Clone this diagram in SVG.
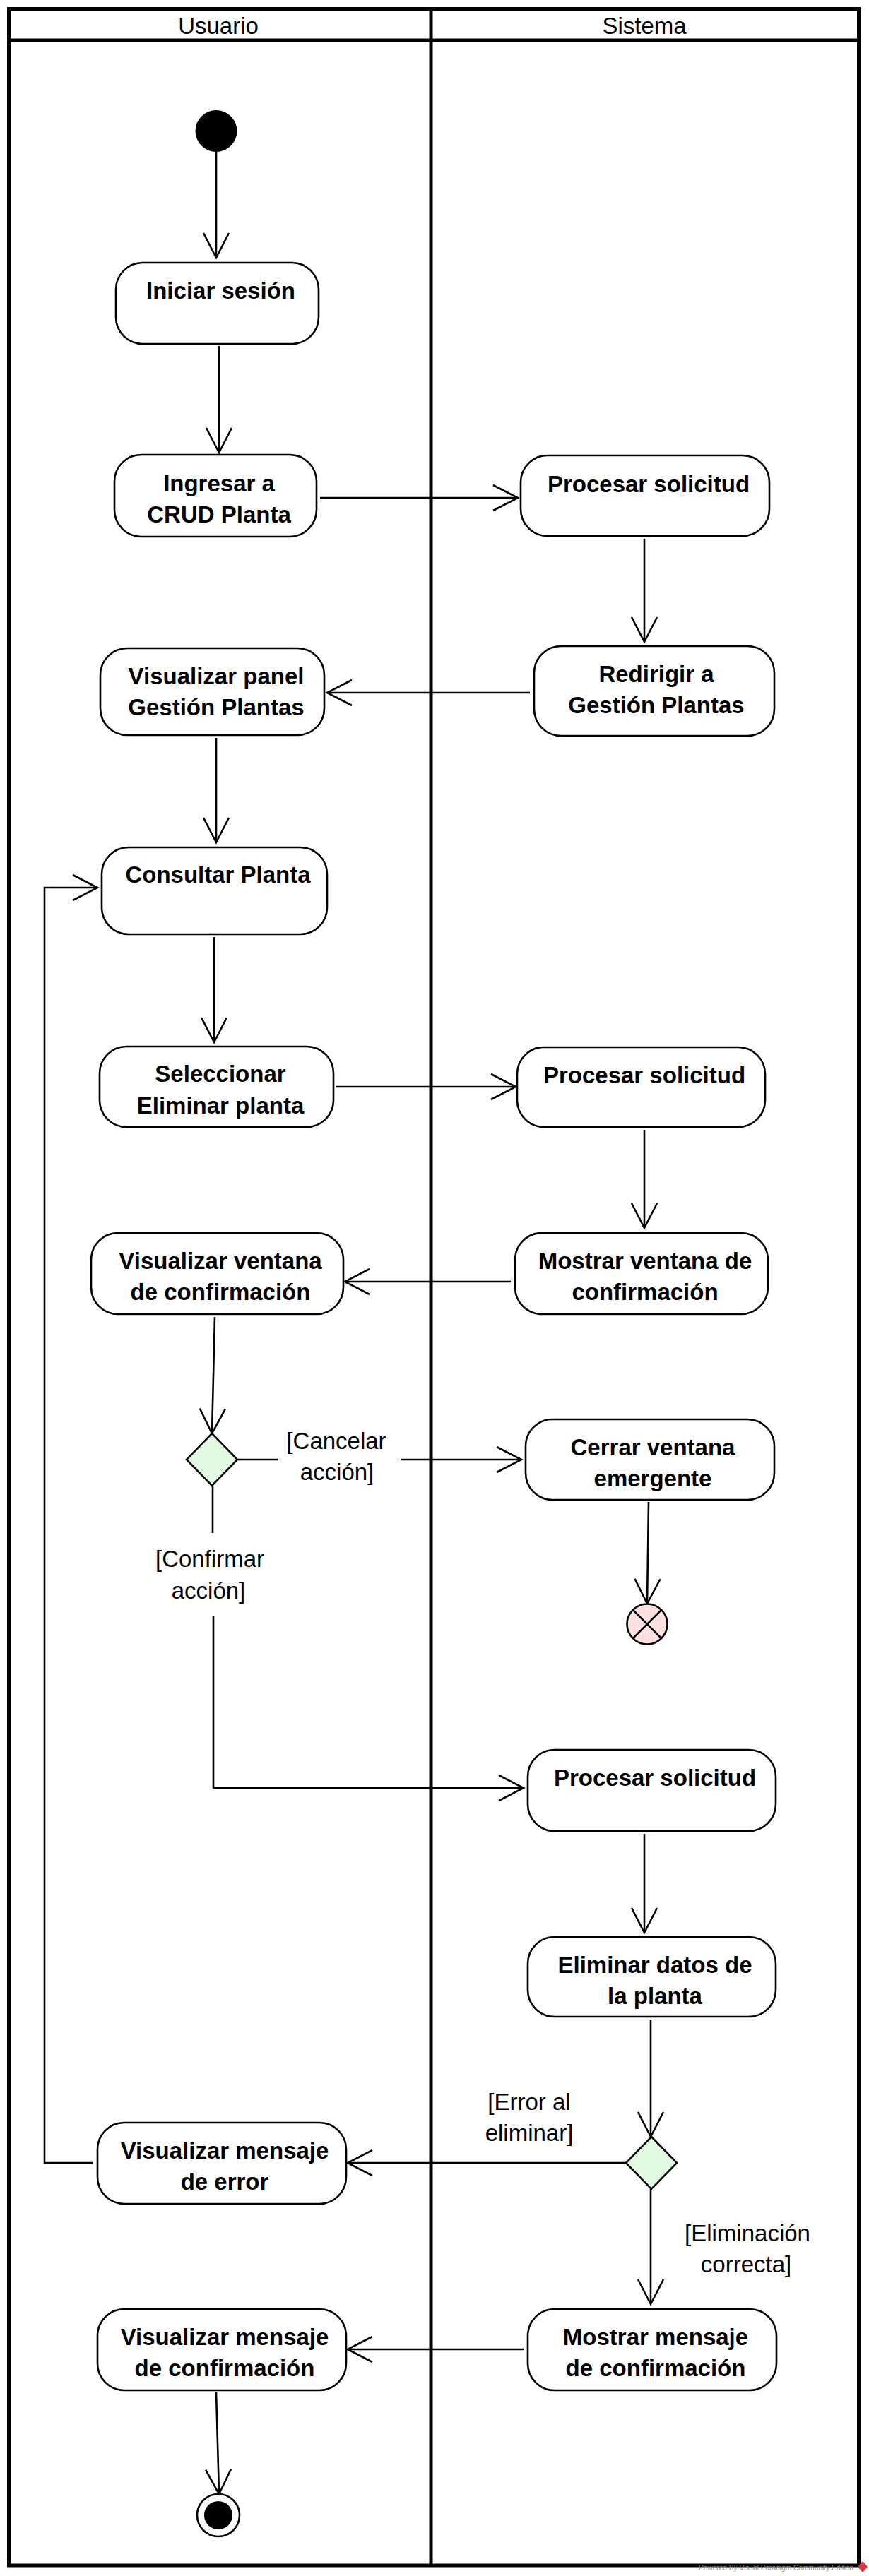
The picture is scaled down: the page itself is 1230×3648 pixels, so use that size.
<svg xmlns="http://www.w3.org/2000/svg" width="1230" height="3648" viewBox="0 0 1230 3648">
<style>
.frame{fill:none;stroke:#000;stroke-width:5}
.act{fill:#fff;stroke:#000;stroke-width:2.6}
.t{font-family:"Liberation Sans",Arial,sans-serif;font-size:33px;font-weight:bold;fill:#000;text-anchor:middle}
.lbl{font-family:"Liberation Sans",Arial,sans-serif;font-size:33px;fill:#000;text-anchor:middle}
.c{fill:none;stroke:#000;stroke-width:2.6}
.ca{fill:none;stroke:#000;stroke-width:2.6;marker-end:url(#open)}
.dec{fill:#e1fae1;stroke:#000;stroke-width:2.6}
</style>
<defs>
<marker id="open" viewBox="0 0 40 40" markerWidth="40" markerHeight="40" refX="37" refY="20" orient="auto" markerUnits="userSpaceOnUse">
<path d="M2,2 L37,20 L2,38" fill="none" stroke="#000" stroke-width="2.6"/>
</marker>
</defs>
<rect width="1230" height="3648" fill="#fff"/>
<g id="swimlanes">
<rect class="frame" x="12.5" y="12.5" width="1203" height="3620.5"/>
<line class="frame" x1="12.5" y1="57" x2="1215.5" y2="57"/>
<line class="frame" x1="610" y1="12.5" x2="610" y2="3633"/>
<text class="lbl" x="309" y="48">Usuario</text>
<text class="lbl" x="912" y="48">Sistema</text>
</g>
<g id="connectors">
<path class="ca" d="M306,215 V365"/>
<path class="ca" d="M310,490 V641"/>
<path class="ca" d="M453,705 H733"/>
<path class="ca" d="M912,763 V909"/>
<path class="ca" d="M750,981 H463"/>
<path class="ca" d="M306,1045 V1193"/>
<path class="ca" d="M303,1327 V1476"/>
<path class="ca" d="M475,1539 H730"/>
<path class="ca" d="M912,1600 V1739"/>
<path class="ca" d="M723,1815 H488"/>
<path class="ca" d="M304,1865 L300,2030"/>
<path class="c" d="M336,2067 H393"/>
<path class="ca" d="M567,2067 H738"/>
<path class="ca" d="M918,2127 L916,2271"/>
<path class="c" d="M301,2104 V2171"/>
<path class="ca" d="M302,2289 V2532 H741"/>
<path class="ca" d="M912,2597 V2737"/>
<path class="ca" d="M921,2860 V3026"/>
<path class="ca" d="M886,3063 H492"/>
<path class="ca" d="M132,3063 H63 V1257 H138"/>
<path class="ca" d="M921,3100 V3263"/>
<path class="ca" d="M741,3327 H492"/>
<path class="ca" d="M306,3388 L310,3532"/>
<text class="lbl" x="476" y="2052">[Cancelar</text>
<text class="lbl" x="477" y="2096">acción]</text>
<text class="lbl" x="297" y="2219">[Confirmar</text>
<text class="lbl" x="295" y="2264">acción]</text>
<text class="lbl" x="749" y="2988">[Error al</text>
<text class="lbl" x="749" y="3032">eliminar]</text>
<text class="lbl" x="1058" y="3174">[Eliminación</text>
<text class="lbl" x="1056" y="3218">correcta]</text>
</g>
<g id="start"><circle cx="306" cy="185.5" r="29.5" fill="#000"/></g>
<g id="iniciar-sesion">
<rect class="act" x="164" y="372" width="287" height="115" rx="38"/>
<text class="t" x="312.5" y="423">Iniciar sesión</text>
</g>
<g id="ingresar-crud">
<rect class="act" x="162" y="644" width="286" height="116" rx="38"/>
<text class="t" x="310" y="696">Ingresar a</text>
<text class="t" x="310" y="740">CRUD Planta</text>
</g>
<g id="procesar-1">
<rect class="act" x="737" y="645" width="352" height="114" rx="38"/>
<text class="t" x="918" y="697">Procesar solicitud</text>
</g>
<g id="redirigir">
<rect class="act" x="756" y="915" width="340" height="127" rx="38"/>
<text class="t" x="929" y="966">Redirigir a</text>
<text class="t" x="929" y="1010">Gestión Plantas</text>
</g>
<g id="visualizar-panel">
<rect class="act" x="142" y="918" width="317" height="123" rx="38"/>
<text class="t" x="306" y="969">Visualizar panel</text>
<text class="t" x="306" y="1013">Gestión Plantas</text>
</g>
<g id="consultar-planta">
<rect class="act" x="144" y="1200" width="319" height="123" rx="38"/>
<text class="t" x="308.5" y="1250">Consultar Planta</text>
</g>
<g id="seleccionar-eliminar">
<rect class="act" x="141" y="1482" width="331" height="114" rx="38"/>
<text class="t" x="312" y="1532">Seleccionar</text>
<text class="t" x="312" y="1577">Eliminar planta</text>
</g>
<g id="procesar-2">
<rect class="act" x="732" y="1483" width="351" height="113" rx="38"/>
<text class="t" x="912" y="1534">Procesar solicitud</text>
</g>
<g id="mostrar-ventana">
<rect class="act" x="729" y="1746" width="358" height="115" rx="38"/>
<text class="t" x="913" y="1797">Mostrar ventana de</text>
<text class="t" x="913" y="1841">confirmación</text>
</g>
<g id="visualizar-ventana">
<rect class="act" x="129" y="1746" width="357" height="115" rx="38"/>
<text class="t" x="312" y="1797">Visualizar ventana</text>
<text class="t" x="312" y="1841">de confirmación</text>
</g>
<g id="decision-1"><polygon class="dec" points="300,2030 336,2067 300,2104 264,2067"/></g>
<g id="cerrar-ventana">
<rect class="act" x="744" y="2010" width="352" height="114" rx="38"/>
<text class="t" x="924" y="2061">Cerrar ventana</text>
<text class="t" x="924" y="2105">emergente</text>
</g>
<g id="flow-final">
<circle cx="916" cy="2300" r="28.5" fill="#fbe0e0" stroke="#000" stroke-width="2.6"/>
<path d="M896,2280 L936,2320 M936,2280 L896,2320" stroke="#000" stroke-width="2.6" fill="none"/>
</g>
<g id="procesar-3">
<rect class="act" x="747" y="2478" width="351" height="115" rx="38"/>
<text class="t" x="927" y="2529">Procesar solicitud</text>
</g>
<g id="eliminar-datos">
<rect class="act" x="747" y="2743" width="351" height="113" rx="38"/>
<text class="t" x="927" y="2794">Eliminar datos de</text>
<text class="t" x="927" y="2838">la planta</text>
</g>
<g id="decision-2"><polygon class="dec" points="922,3026 958,3063 922,3100 886,3063"/></g>
<g id="visualizar-error">
<rect class="act" x="138" y="3006" width="352" height="115" rx="38"/>
<text class="t" x="318" y="3057">Visualizar mensaje</text>
<text class="t" x="318" y="3101">de error</text>
</g>
<g id="mostrar-mensaje">
<rect class="act" x="747" y="3270" width="352" height="115" rx="38"/>
<text class="t" x="928" y="3321">Mostrar mensaje</text>
<text class="t" x="928" y="3365">de confirmación</text>
</g>
<g id="visualizar-confirmacion">
<rect class="act" x="138" y="3270" width="352" height="115" rx="38"/>
<text class="t" x="318" y="3321">Visualizar mensaje</text>
<text class="t" x="318" y="3365">de confirmación</text>
</g>
<g id="end">
<circle cx="309" cy="3562" r="30" fill="#fff" stroke="#000" stroke-width="2.6"/>
<circle cx="309" cy="3562" r="20" fill="#000"/>
</g>
<g id="watermark">
<text x="989" y="3640" font-family="Liberation Sans, Arial, sans-serif" font-size="10" fill="#8a8a8a" textLength="219" lengthAdjust="spacingAndGlyphs">Powered By Visual Paradigm Community Edition</text>
<polygon points="1221,3627 1228,3635 1221,3643 1214,3635" fill="#d9363e"/>
</g>
</svg>
